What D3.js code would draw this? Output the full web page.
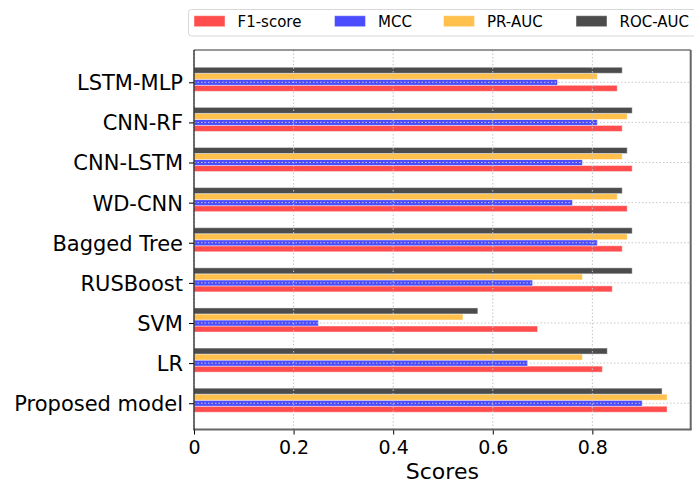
<!DOCTYPE html>
<html>
<head>
<meta charset="utf-8">
<script src="https://cdn.jsdelivr.net/npm/d3@7"></script>
<style>
  html, body { margin: 0; padding: 0; background: #fff; }
  svg { display: block; font-family: "DejaVu Sans", sans-serif; }
</style>
</head>
<body>
<svg id="chart" width="694" height="486"></svg>
<script>
// Categories, bottom (index 0) to top
const categories = ["Proposed model", "LR", "SVM", "RUSBoost", "Bagged Tree", "WD-CNN", "CNN-LSTM", "CNN-RF", "LSTM-MLP"];
const f1Score = [0.95, 0.82, 0.69, 0.84, 0.86, 0.87, 0.88, 0.86, 0.85];
const mcc     = [0.90, 0.67, 0.25, 0.68, 0.81, 0.76, 0.78, 0.81, 0.73];
const prAuc   = [0.95, 0.78, 0.54, 0.78, 0.87, 0.85, 0.86, 0.87, 0.81];
const rocAuc  = [0.94, 0.83, 0.57, 0.88, 0.88, 0.86, 0.87, 0.88, 0.86];
const seriesNames = ["F1-score", "MCC", "PR-AUC", "ROC-AUC"];
const xTicks = [0, 0.2, 0.4, 0.6, 0.8];
const xLabel = "Scores";

const series = [
  { name: seriesNames[0], values: f1Score, offset: -0.15, color: "#ff4c4c" },
  { name: seriesNames[1], values: mcc,     offset: 0,     color: "#4c4cff" },
  { name: seriesNames[2], values: prAuc,   offset: 0.15,  color: "#ffc04c" },
  { name: seriesNames[3], values: rocAuc,  offset: 0.30,  color: "#4c4c4c" }
];
const barH = 0.15;

const svg = d3.select("#chart");
const L = 194, R = 690.7, T = 50, B = 429.5;

const maxV = d3.max(series.flatMap(s => s.values));
const x = d3.scaleLinear().domain([0, maxV * 1.05]).range([L, R]);
const lo = -0.225, hi = categories.length - 1 + 0.375, pad = (hi - lo) * 0.05;
const y = d3.scaleLinear().domain([lo - pad, hi + pad]).range([B, T]);

// bars
const g = svg.append("g");
series.forEach(s => {
  g.selectAll(null).data(s.values).enter().append("rect")
    .attr("x", x(0))
    .attr("y", (d, i) => y(i + s.offset + barH / 2))
    .attr("width", d => x(d) - x(0))
    .attr("height", (d, i) => y(i + s.offset - barH / 2) - y(i + s.offset + barH / 2))
    .attr("fill", s.color)
    .attr("stroke", "#ffffff").attr("stroke-opacity", 0.45).attr("stroke-width", 1);
});

// grid (drawn over bars)
const grid = svg.append("g");
grid.selectAll(null).data(xTicks).enter().append("line")
  .attr("x1", d => x(d)).attr("x2", d => x(d)).attr("y1", T).attr("y2", B)
  .attr("stroke", "#c4c4c4").attr("stroke-width", 1).attr("stroke-dasharray", "1.5,2");
grid.selectAll(null).data(categories).enter().append("line")
  .attr("x1", L).attr("x2", R).attr("y1", (d, i) => y(i)).attr("y2", (d, i) => y(i))
  .attr("stroke", "#c8c8c8").attr("stroke-width", 1).attr("stroke-dasharray", "1.5,2");

// axes
const xAxis = d3.axisBottom(x).tickValues(xTicks).tickSize(5).tickPadding(6)
  .tickFormat(d => d === 0 ? "0" : d3.format(".1f")(d));
const xg = svg.append("g").attr("transform", `translate(0,${B})`).call(xAxis);
xg.select(".domain").remove();
xg.selectAll("text").attr("font-size", 19).attr("fill", "#000").attr("font-family", "DejaVu Sans");
xg.selectAll("line").attr("stroke", "#000");

const yAxis = d3.axisLeft(y).tickValues(d3.range(categories.length)).tickSize(5).tickPadding(6)
  .tickFormat(i => categories[i]);
const yg = svg.append("g").attr("transform", `translate(${L},0)`).call(yAxis);
yg.select(".domain").remove();
yg.selectAll("text").attr("font-size", 21).attr("fill", "#000").attr("font-family", "DejaVu Sans").attr("dy", "0.35em");
yg.selectAll("line").attr("stroke", "#000");

// spines
svg.append("line").attr("x1", L).attr("x2", R).attr("y1", T).attr("y2", T).attr("stroke", "#333").attr("stroke-width", 1.2);
svg.append("line").attr("x1", R).attr("x2", R).attr("y1", T).attr("y2", B).attr("stroke", "#666").attr("stroke-width", 2);
svg.append("line").attr("x1", L).attr("x2", R + 1).attr("y1", B).attr("y2", B).attr("stroke", "#666").attr("stroke-width", 2);
svg.append("line").attr("x1", L).attr("x2", L).attr("y1", T).attr("y2", B + 1).attr("stroke", "#111").attr("stroke-width", 1.2);

// x label
svg.append("text").attr("x", (L + R) / 2).attr("y", 479).attr("text-anchor", "middle")
  .attr("font-size", 22).attr("fill", "#000").text(xLabel);

// legend
const lg = svg.append("g");
lg.append("rect").attr("x", 188.5).attr("y", 9.5).attr("width", 520).attr("height", 26.5)
  .attr("rx", 3).attr("fill", "#fff").attr("stroke", "#d8d8d8").attr("stroke-width", 1);
const legX = [194, 334.5, 443.5, 576];
series.forEach((s, k) => {
  lg.append("rect").attr("x", legX[k]).attr("y", 15.7).attr("width", 31).attr("height", 11)
    .attr("fill", s.color).attr("stroke", "#fff").attr("stroke-opacity", 0.45);
  lg.append("text").attr("x", legX[k] + 43.5).attr("y", 26.7).attr("font-size", 15)
    .attr("fill", "#000").text(s.name);
});
</script>
</body>
</html>
